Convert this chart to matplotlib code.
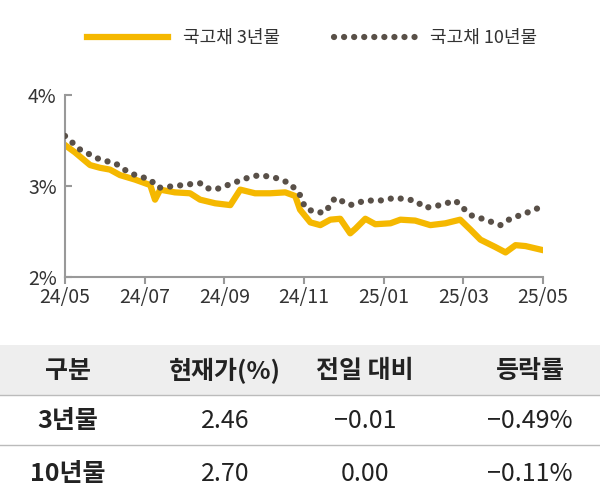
import matplotlib
matplotlib.use("Agg")
import matplotlib.pyplot as plt
from matplotlib.patches import Rectangle
from matplotlib.lines import Line2D
from matplotlib import font_manager

names = {f.name for f in font_manager.fontManager.ttflist}
fam = [n for n in ["Noto Sans CJK KR", "Noto Sans CJK JP", "Noto Sans CJK SC"] if n in names]
plt.rcParams["font.family"] = fam + ["DejaVu Sans"]

# month offsets from 2024/05
x3 = [0, 0.25, 0.63, 0.88, 1.13, 1.38, 1.76, 2.14, 2.26, 2.39, 2.76, 3.14, 3.39, 3.77, 4.15, 4.4, 4.77, 5.15, 5.53, 5.78, 5.9, 6.16, 6.41, 6.66, 6.91, 7.16, 7.29, 7.54, 7.79, 8.17, 8.42, 8.79, 9.17, 9.55, 9.92, 10.18, 10.43, 10.8, 11.06, 11.31, 11.56, 11.95]
y3 = [3.45, 3.37, 3.23, 3.20, 3.18, 3.12, 3.07, 3.01, 2.85, 2.96, 2.93, 2.92, 2.85, 2.81, 2.79, 2.96, 2.92, 2.92, 2.93, 2.89, 2.74, 2.60, 2.57, 2.63, 2.64, 2.48, 2.53, 2.64, 2.58, 2.59, 2.63, 2.62, 2.57, 2.59, 2.63, 2.52, 2.41, 2.33, 2.27, 2.35, 2.34, 2.30]
x10 = [0, 0.38, 0.88, 1.26, 1.63, 2.14, 2.34, 2.76, 3.14, 3.39, 3.52, 3.77, 4.02, 4.27, 4.65, 4.9, 5.28, 5.65, 5.9, 6.03, 6.28, 6.53, 6.78, 7.16, 7.54, 7.91, 8.29, 8.79, 9.04, 9.42, 9.8, 10.18, 10.55, 10.93, 11.18, 11.56, 11.95]
y10 = [3.55, 3.40, 3.29, 3.25, 3.14, 3.07, 2.98, 3.00, 3.02, 3.03, 2.98, 2.96, 3.00, 3.04, 3.10, 3.12, 3.09, 3.03, 2.90, 2.76, 2.71, 2.71, 2.87, 2.79, 2.84, 2.84, 2.87, 2.84, 2.76, 2.79, 2.84, 2.68, 2.63, 2.57, 2.64, 2.70, 2.77]
xticks = [0, 2, 4, 6, 8, 10, 12]
xlabels = ["24/05", "24/07", "24/09", "24/11", "25/01", "25/03", "25/05"]
yticks = [2, 3, 4]
ylabels = ["2%", "3%", "4%"]

headers = ["구분", "현재가(%)", "전일 대비", "등락률"]
rows = [["3년물", "2.46", "−0.01", "−0.49%"], ["10년물", "2.70", "0.00", "−0.11%"]]

W, H = 600, 504
dots = (0, (0.01, 1.6))
fig = plt.figure(figsize=(6, 5.04), dpi=100)
ax = fig.add_axes([65 / W, 1 - 277 / H, 478 / W, 182 / H])
ax.plot(x3, y3, color="#F5B800", lw=4.5, solid_joinstyle="round", zorder=2)
ax.plot(x10, y10, color="#595048", lw=4.5, linestyle=dots, dash_capstyle="round", zorder=3)
ax.set_xlim(0, 12)
ax.set_ylim(2, 4)
ax.set_xticks(xticks, xlabels)
ax.set_yticks(yticks, ylabels)
for s in ["top", "right"]:
    ax.spines[s].set_visible(False)
for s in ["left", "bottom"]:
    ax.spines[s].set_color("#999999")
    ax.spines[s].set_linewidth(1.5)
ax.tick_params(colors="#999999", labelcolor="#333333", labelsize=14, length=5, width=1.5, direction="in")
ax.tick_params(axis="x", direction="out", pad=2)
ax.tick_params(axis="y", pad=6)

leg = [Line2D([], [], color="#F5B800", lw=4.5),
       Line2D([], [], color="#595048", lw=4.5, linestyle=dots, dash_capstyle="round")]
fig.legend(leg, ["국고채 3년물", "국고채 10년물"], loc="center", bbox_to_anchor=(0.52, 1 - 38 / H),
           ncol=2, frameon=False, fontsize=13, handlelength=4.5, columnspacing=3, labelcolor="#333333")

tax = fig.add_axes([0, 0, 1, 1])
tax.set_xlim(0, W)
tax.set_ylim(H, 0)
tax.axis("off")
tax.add_patch(Rectangle((0, 345), W, 50, color="#EEEEEE", lw=0))
for yy in [395, 445]:
    tax.plot([0, W], [yy, yy], color="#BBBBBB", lw=1)
cx = [68, 225, 365, 530]
for c, t in zip(cx, headers):
    tax.text(c, 371, t, ha="center", va="center", fontsize=18, color="#222222", fontweight="bold")
for r, yy in zip(rows, [421, 474]):
    for i, (c, t) in enumerate(zip(cx, r)):
        tax.text(c, yy, t, ha="center", va="center", fontsize=18, color="#222222",
                 fontweight="bold" if i == 0 else "normal")

fig.savefig("out.png", dpi=100)
